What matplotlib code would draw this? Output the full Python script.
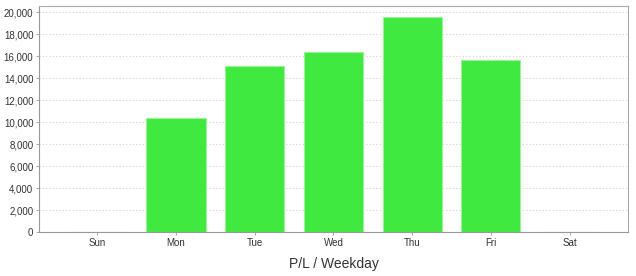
import matplotlib
matplotlib.use('Agg')
import matplotlib.pyplot as plt

plt.rcParams['font.family'] = ['Liberation Sans', 'DejaVu Sans']

# weekday P/L
days = ['Sun', 'Mon', 'Tue', 'Wed', 'Thu', 'Fri', 'Sat']
pl = [0, 10400, 15100, 16350, 19550, 15650, 0]
yticks = list(range(0, 20001, 2000))

fig = plt.figure(figsize=(6.36, 2.76), dpi=100)
ax = fig.add_axes([0.0613, 0.1594, 0.926, 0.8186])

ax.bar(range(len(days)), pl, width=0.75, color='#3fe93f', edgecolor='#9af59a', linewidth=0.8, zorder=2)

ax.set_xlim(-0.74, 6.74)
ax.set_ylim(0, 20550)
ax.set_xticks(range(len(days)))
ax.set_xticklabels(days)
ax.set_yticks(yticks)
ax.set_yticklabels(['{:,}'.format(v) for v in yticks])
ax.tick_params(labelsize=7, colors='#333333', length=2, width=0.6, pad=2)
ax.tick_params(axis='both', color='#999999')
ax.yaxis.grid(True, linestyle=(0, (1.5, 2.5)), color='#cccccc', linewidth=0.6, zorder=0)
for s in ax.spines.values():
    s.set_color('#aaaaaa')
    s.set_linewidth(0.8)
ax.spines['left'].set_color('#999999')
ax.spines['bottom'].set_color('#999999')

ax.set_xlabel('P/L / Weekday', fontsize=10, color='#333333', labelpad=7)

fig.savefig('out.png', dpi=100)
